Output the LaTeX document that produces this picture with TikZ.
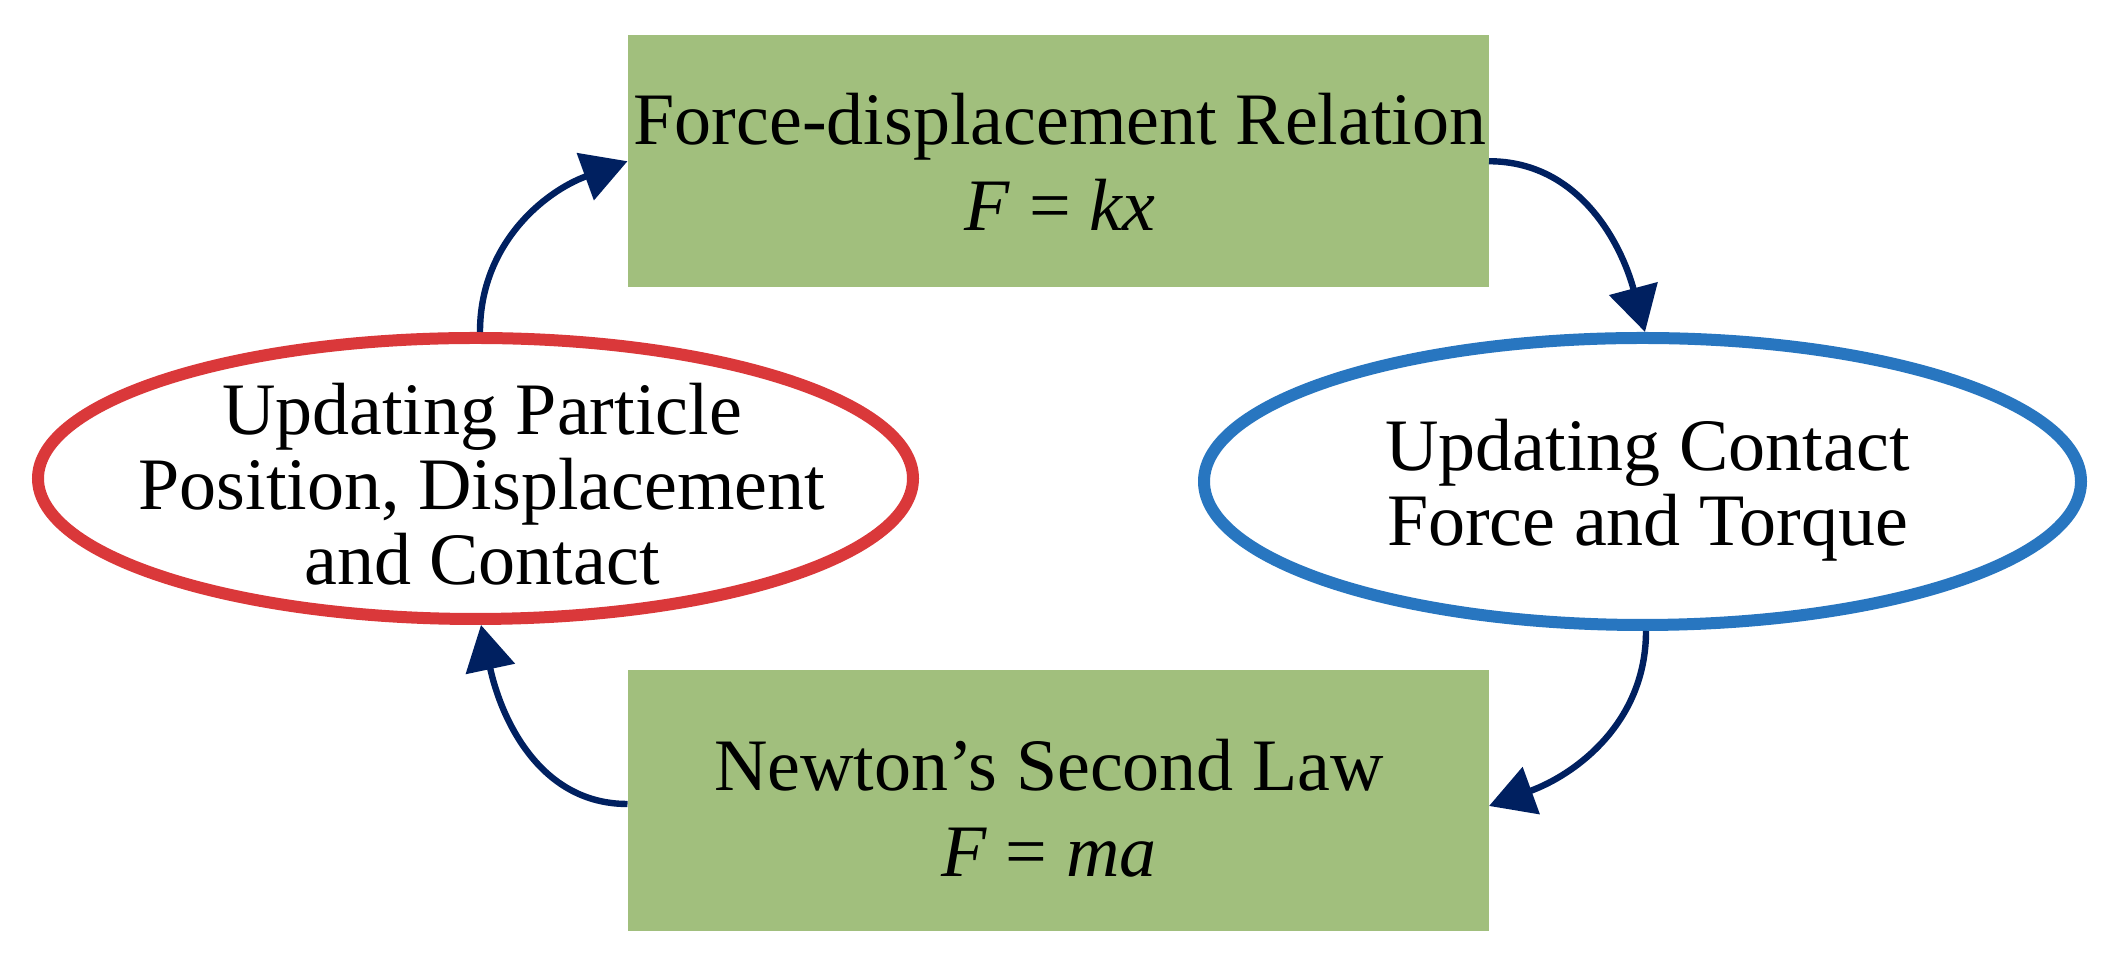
\documentclass[tikz,border=0pt]{standalone}
\usepackage{fontspec}
\setmainfont{Liberation Serif}
\usetikzlibrary{shapes.geometric,arrows.meta}
\definecolor{boxgreen}{RGB}{161,191,125}
\definecolor{ellred}{RGB}{218,56,58}
\definecolor{ellblue}{RGB}{40,118,192}
\definecolor{arrnavy}{RGB}{0,32,96}
\begin{document}
\begin{tikzpicture}[x=0.5pt,y=0.5pt,
  greenbox/.style={rectangle, fill=boxgreen, inner sep=0pt, outer sep=0pt},
  ovalnode/.style={ellipse, draw, line width=6pt, fill=white, inner sep=0pt, outer sep=3pt},
  boxtext/.style={align=center, inner sep=0pt, font=\fontsize{37pt}{43pt}\selectfont},
  ovaltext/.style={align=center, inner sep=0pt, font=\fontsize{37pt}{37.3pt}\selectfont},
  flow/.style={draw=arrnavy, line width=3.2pt, -{Triangle[length=22.5pt,width=24.5pt]}}
]
\useasboundingbox (0,0) rectangle (2116,968);
\node[greenbox, minimum width=430.75pt, minimum height=125.75pt] (tb) at (1058.25,806.75) {};
\node[greenbox, minimum width=430.75pt, minimum height=130.5pt] (bb) at (1058.25,167.5) {};
\node[ovalnode, draw=ellred, minimum width=437.5pt, minimum height=140.5pt] (le) at (475.5,489.5) {};
\node[ovalnode, draw=ellblue, minimum width=438.5pt, minimum height=143.5pt] (re) at (1642.5,486.5) {};
\node[boxtext] (tbt) at (1060,806.25) {Force-displacement Relation\\\textit{F} = \textit{kx}};
\node[boxtext] (bbt) at (1049,159.75) {Newton’s Second Law\\\textit{F} = \textit{ma}};
\node[ovaltext] (let) at (482,483.75) {Updating Particle\\Position, Displacement\\and Contact};
\node[ovaltext] (ret) at (1647.5,477.75) {Updating Contact\\Force and Torque};
\draw[flow] ([xshift=2.25pt]le.north) to[out=90,in=200] (tb.west);
\draw[flow] (tb.east) to[out=0,in=105] ([xshift=1.25pt]re.north);
\draw[flow] ([xshift=1.75pt]re.south) to[out=-90,in=20] ([yshift=-2.75pt]bb.east);
\draw[flow] ([yshift=-1.75pt]bb.west) to[out=180,in=-78] ([xshift=2.75pt]le.south);
\end{tikzpicture}
\end{document}
